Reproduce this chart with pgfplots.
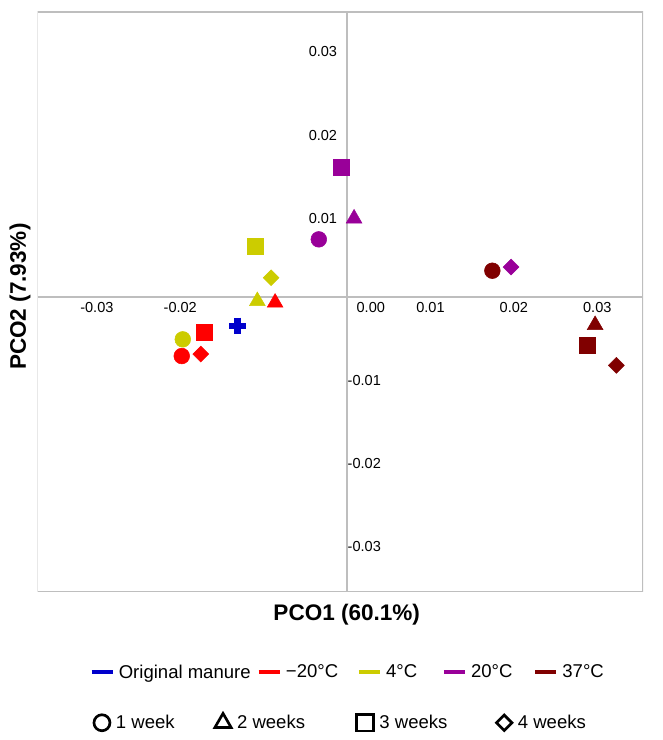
\documentclass[border=0pt]{standalone}
\usepackage{fontspec}
\setmainfont{Liberation Sans}
\usepackage{pgfplots}
\pgfplotsset{compat=1.18}
\definecolor{cblue}{RGB}{0,0,204}
\definecolor{cred}{RGB}{255,0,0}
\definecolor{cyel}{RGB}{204,204,0}
\definecolor{cpur}{RGB}{153,0,153}
\definecolor{cdred}{RGB}{128,0,0}
\definecolor{axgray}{RGB}{190,190,190}
\pgfplotsset{
  mcirc/.style={only marks, mark=*, mark size=5.9pt, forget plot},
  mtri/.style={only marks, mark=triangle*, mark size=6.8pt, forget plot},
  msq/.style={only marks, mark=square*, mark size=6pt, forget plot},
  mdia/.style={only marks, mark=square*, mark size=4.2pt, mark options={rotate=45}, forget plot},
}
\begin{document}
\begin{tikzpicture}
\useasboundingbox (0,0) rectangle (496.5pt,555pt);
\begin{axis}[
  at={(28.3pt,111.2pt)}, anchor=south west,
  scale only axis, width=454pt, height=434.8pt,
  xmin=-0.03709, xmax=0.03549, ymin=-0.03537, ymax=0.03414,
  axis lines=middle,
  axis line style={-, axgray, line width=1.2pt},
  scaled x ticks=false, scaled y ticks=false,
  hide obscured x ticks=false, hide obscured y ticks=false,
  major tick length=0pt,
  tick label style={font=\fontsize{10.9}{13}\selectfont},
  xtick={-0.03,-0.02,0.01,0.02,0.03},
  xticklabels={-0.03,-0.02,0.01,0.02,0.03},
  xticklabel style={anchor=north, inner xsep=0pt, inner ysep=4.35pt},
  ytick={0.01,0.02,0.03},
  yticklabels={0.01,0.02,0.03},
  yticklabel style={anchor=north east, inner xsep=7.3pt, inner ysep=0pt},
  extra x ticks={0}, extra x tick labels={0.00},
  extra x tick style={xticklabel style={xshift=17.8pt}},
  extra y ticks={-0.01,-0.02,-0.03}, extra y tick labels={-0.01,-0.02,-0.03},
  extra y tick style={yticklabel style={anchor=west, inner xsep=0.3pt, inner ysep=0pt}},
  xlabel={PCO1 (60.1\%)}, ylabel={PCO2 (7.93\%)},
  label style={font=\bfseries\fontsize{16.9}{20}\selectfont},
  xlabel style={at={(axis description cs:0.5105,-0.0402)}, anchor=center},
  ylabel style={at={(axis description cs:-0.0292,0.5089)}, anchor=center, rotate=90},
  legend columns=5,
  legend image code/.code={\draw[#1, line width=3pt] (0pt,0pt) -- (15.75pt,0pt);},
  legend style={at={(axis description cs:0.5126,-0.139)}, anchor=center,
    draw=none, fill=none, inner sep=0pt, outer sep=0pt,
    font=\fontsize{13.9}{16}\selectfont,
    /tikz/every odd column/.append style={column sep=1.2pt},
    /tikz/every even column/.append style={column sep=2.5pt}},
]
% Original manure
\addplot[only marks, mark=+, mark size=6.2pt, cblue, line width=5pt, forget plot] coordinates {(-0.01315,-0.00351)};
% -20 C
\addplot[mcirc, cred] coordinates {(-0.01982,-0.00711)};
\addplot[mtri,  cred] coordinates {(-0.00863,-0.00071)};
\addplot[msq,   cred] coordinates {(-0.01715,-0.00432)};
\addplot[mdia,  cred] coordinates {(-0.01754,-0.00687)};
% 4 C
\addplot[mcirc, cyel] coordinates {(-0.01970,-0.00511)};
\addplot[mtri,  cyel] coordinates {(-0.01076,-0.00052)};
\addplot[msq,   cyel] coordinates {(-0.01103,0.00600)};
\addplot[mdia,  cyel] coordinates {(-0.00911,0.00228)};
% 20 C
\addplot[mcirc, cpur] coordinates {(-0.00339,0.00688)};
\addplot[mtri,  cpur] coordinates {(0.00084,0.00938)};
\addplot[msq,   cpur] coordinates {(-0.00064,0.01552)};
\addplot[mdia,  cpur] coordinates {(0.01966,0.00356)};
% 37 C
\addplot[mcirc, cdred] coordinates {(0.01742,0.00312)};
\addplot[mtri,  cdred] coordinates {(0.02974,-0.00339)};
\addplot[msq,   cdred] coordinates {(0.02878,-0.00579)};
\addplot[mdia,  cdred] coordinates {(0.03229,-0.00823)};
\draw[axgray, line width=1.1pt] (rel axis cs:0,0) rectangle (rel axis cs:1,1);
\addlegendimage{cblue}
\addlegendentry{Original manure}
\addlegendimage{cred}
\addlegendentry{−20°C\kern9.45pt}
\addlegendimage{cyel}
\addlegendentry{4°C\kern14pt}
\addlegendimage{cpur}
\addlegendentry{20°C\kern11pt}
\addlegendimage{cdred}
\addlegendentry{37°C}
\end{axis}
\begin{axis}[
  at={(28.3pt,111.2pt)}, anchor=south west,
  scale only axis, width=454pt, height=434.8pt,
  hide axis, xmin=0, xmax=1, ymin=0, ymax=1,
  legend columns=4,
  legend image code/.code={\draw[#1] plot coordinates {(0pt,0pt)};},
  legend style={at={(axis description cs:0.5014,-0.226)}, anchor=center,
    draw=none, fill=none, inner sep=0pt, outer sep=0pt,
    font=\fontsize{13.9}{16}\selectfont,
    /tikz/every odd column/.append style={column sep=2.5pt},
    /tikz/every even column/.append style={column sep=28.2pt}},
]
\addlegendimage{black, line width=2pt, mark=o, mark size=6pt}
\addlegendentry{1 week}
\addlegendimage{black, line width=2pt, mark=triangle, mark size=7pt}
\addlegendentry{2 weeks\kern8.5pt}
\addlegendimage{black, line width=2pt, mark=square, mark size=6.3pt}
\addlegendentry{3 weeks\kern6.5pt}
\addlegendimage{black, line width=2pt, mark=square, mark size=4.1pt, mark options={rotate=45}}
\addlegendentry{4 weeks}
\end{axis}
\end{tikzpicture}
\end{document}
